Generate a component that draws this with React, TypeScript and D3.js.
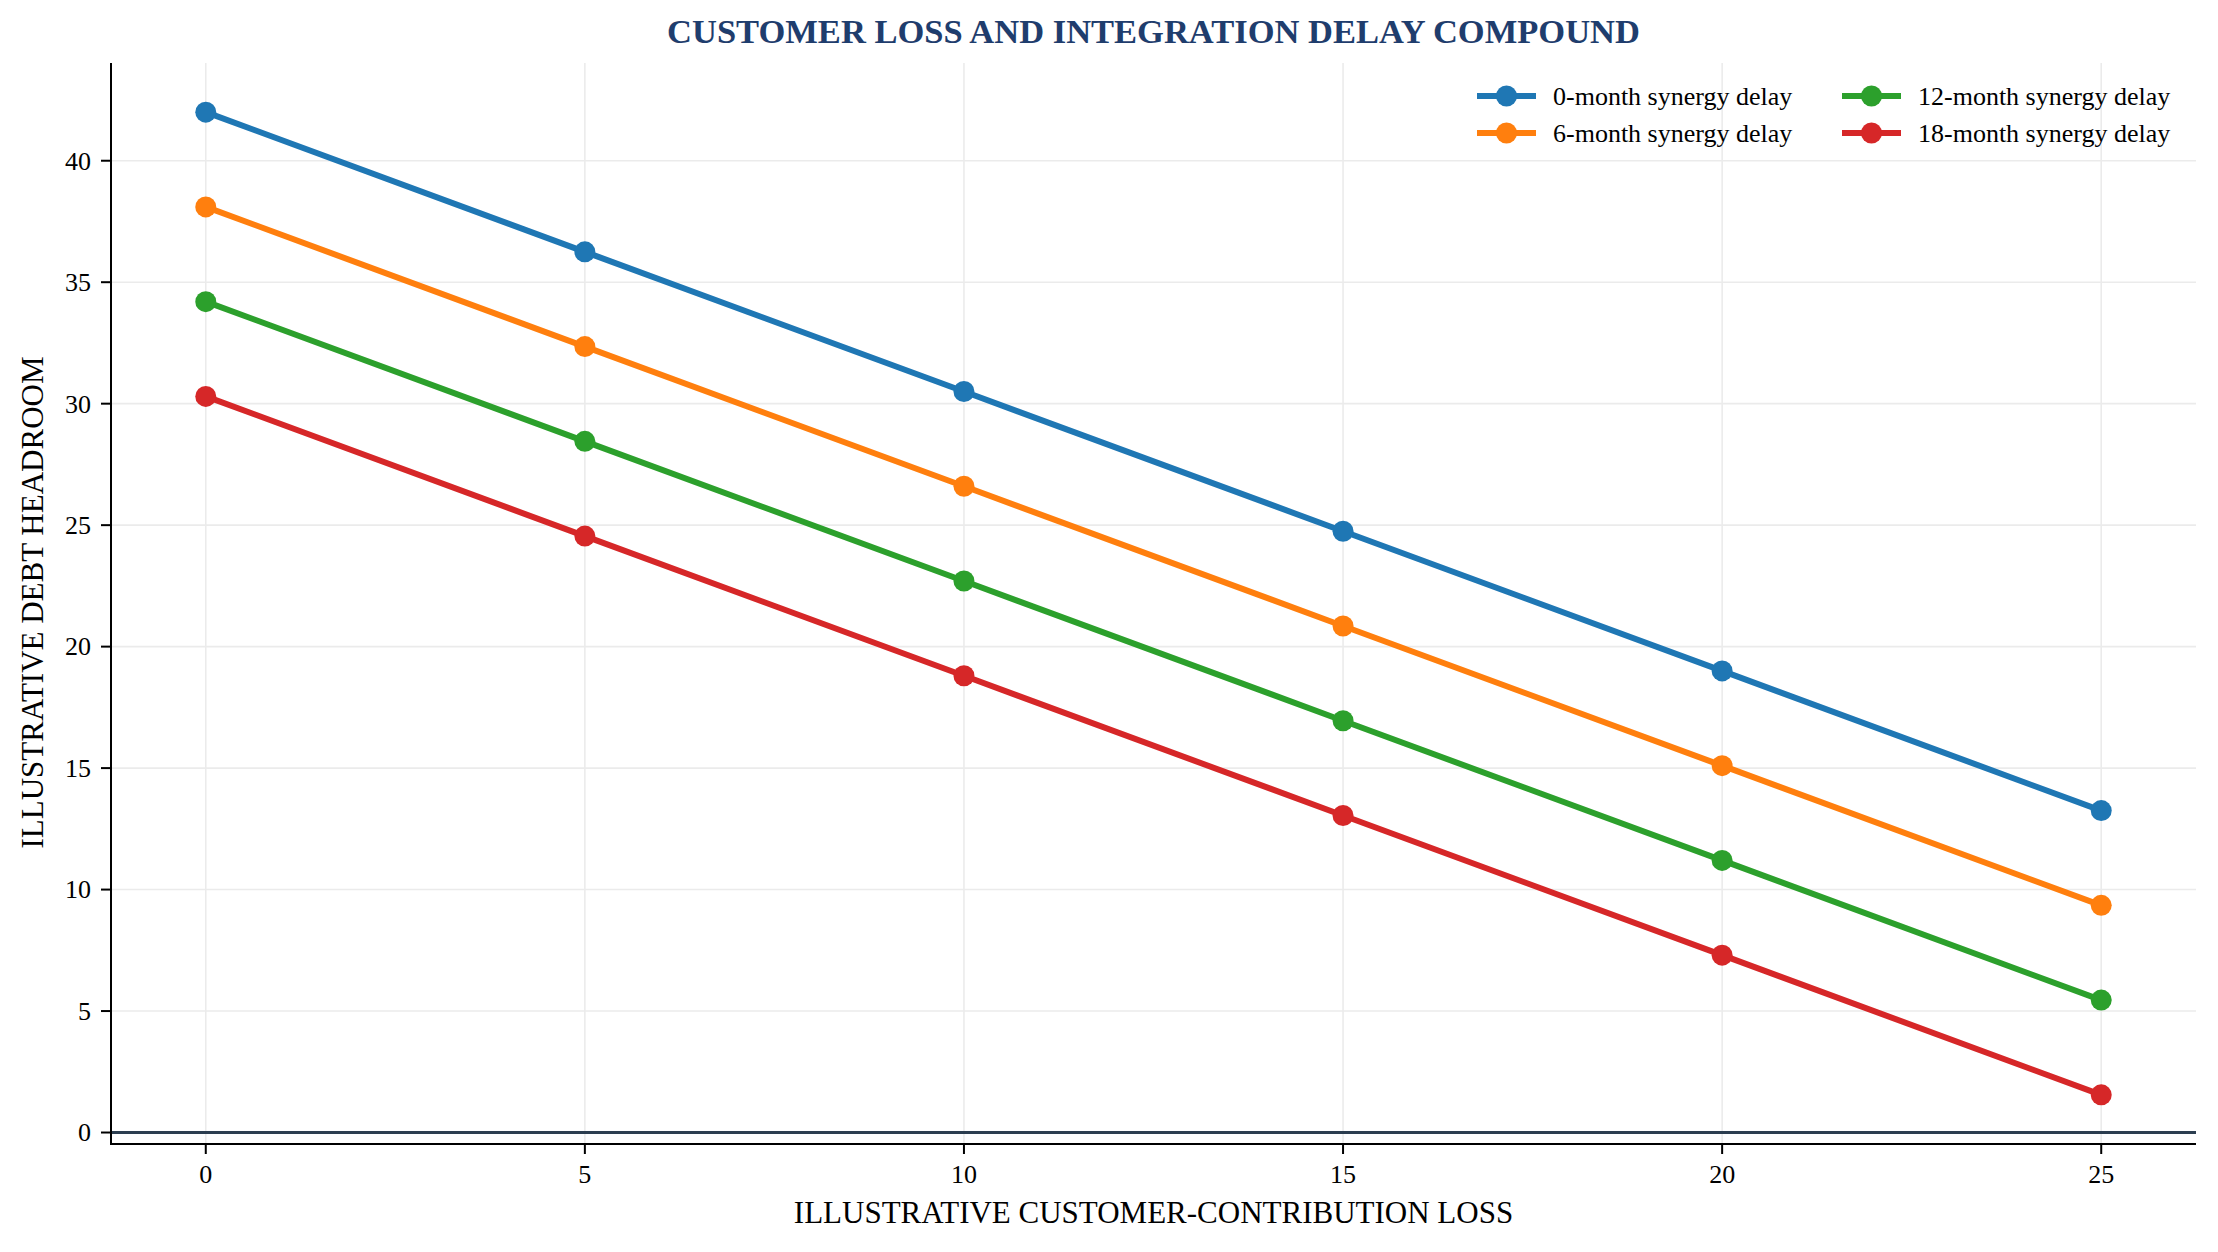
import { useEffect, useRef } from 'react';
import * as d3 from 'd3';

const contributionLoss = [0, 5, 10, 15, 20, 25];
const seriesNames = [
  '0-month synergy delay',
  '6-month synergy delay',
  '12-month synergy delay',
  '18-month synergy delay',
];
const delay0 = [42.0, 36.25, 30.5, 24.75, 19.0, 13.25];
const delay6 = [38.1, 32.35, 26.6, 20.85, 15.1, 9.35];
const delay12 = [34.2, 28.45, 22.7, 16.95, 11.2, 5.45];
const delay18 = [30.3, 24.55, 18.8, 13.05, 7.3, 1.55];
const seriesColors = ['#1f77b4', '#ff7f0e', '#2ca02c', '#d62728'];
const xTicks = [0, 5, 10, 15, 20, 25];
const yTicks = [0, 5, 10, 15, 20, 25, 30, 35, 40];

const W = 2218;
const H = 1252;
const FONT = '"Liberation Serif", "Times New Roman", "DejaVu Serif", serif';

const App = () => {
  const ref = useRef<SVGSVGElement>(null);

  useEffect(() => {
    if (!ref.current) return;
    document.body.style.margin = '0';
    const svg = d3.select(ref.current);
    svg.selectAll('*').remove();

    const left = 111, right = 2196, top = 63, bottom = 1144;
    const allValues = [delay0, delay6, delay12, delay18].flat();
    const yMin = d3.min(allValues) as number;
    const yMax = d3.max(allValues) as number;
    const pad = (yMax - yMin) * 0.05;

    const x = d3.scaleLinear().domain([-1.25, 26.25]).range([left, right]);
    const y = d3.scaleLinear().domain([yMin - pad, yMax + pad]).range([bottom, top]);

    svg.append('rect').attr('width', W).attr('height', H).attr('fill', 'white');

    // grid
    const grid = svg.append('g');
    grid.selectAll('.gx').data(xTicks).enter().append('line')
      .attr('x1', d => x(d)).attr('x2', d => x(d))
      .attr('y1', top).attr('y2', bottom)
      .attr('stroke', '#ebebeb').attr('stroke-width', 1.6);
    grid.selectAll('.gy').data(yTicks).enter().append('line')
      .attr('x1', left).attr('x2', right)
      .attr('y1', d => y(d)).attr('y2', d => y(d))
      .attr('stroke', '#ebebeb').attr('stroke-width', 1.6);

    // zero reference line
    svg.append('line')
      .attr('x1', left).attr('x2', right)
      .attr('y1', y(0)).attr('y2', y(0))
      .attr('stroke', '#2c3e50').attr('stroke-width', 3);

    // series
    const series = [delay0, delay6, delay12, delay18];
    const line = d3.line<number>()
      .x((_, i) => x(contributionLoss[i]))
      .y(d => y(d));

    series.forEach((vals, si) => {
      const g = svg.append('g');
      g.append('path')
        .attr('d', line(vals) || '')
        .attr('fill', 'none')
        .attr('stroke', seriesColors[si])
        .attr('stroke-width', 6)
        .attr('stroke-linejoin', 'round');
      g.selectAll('circle').data(vals).enter().append('circle')
        .attr('cx', (_, i) => x(contributionLoss[i]))
        .attr('cy', d => y(d))
        .attr('r', 10.5)
        .attr('fill', seriesColors[si]);
    });

    // spines
    svg.append('line')
      .attr('x1', left).attr('x2', left).attr('y1', top).attr('y2', bottom + 1)
      .attr('stroke', 'black').attr('stroke-width', 2);
    svg.append('line')
      .attr('x1', left - 1).attr('x2', right).attr('y1', bottom).attr('y2', bottom)
      .attr('stroke', 'black').attr('stroke-width', 2);

    // x ticks
    const xt = svg.append('g');
    xt.selectAll('line').data(xTicks).enter().append('line')
      .attr('x1', d => x(d)).attr('x2', d => x(d))
      .attr('y1', bottom).attr('y2', bottom + 10)
      .attr('stroke', 'black').attr('stroke-width', 2);
    xt.selectAll('text').data(xTicks).enter().append('text')
      .attr('x', d => x(d)).attr('y', 1183)
      .attr('text-anchor', 'middle')
      .attr('font-family', FONT).attr('font-size', 26)
      .text(d => d);

    // y ticks
    const yt = svg.append('g');
    yt.selectAll('line').data(yTicks).enter().append('line')
      .attr('x1', left - 10).attr('x2', left)
      .attr('y1', d => y(d)).attr('y2', d => y(d))
      .attr('stroke', 'black').attr('stroke-width', 2);
    yt.selectAll('text').data(yTicks).enter().append('text')
      .attr('x', left - 20).attr('y', d => y(d))
      .attr('dy', '0.34em')
      .attr('text-anchor', 'end')
      .attr('font-family', FONT).attr('font-size', 26)
      .text(d => d);

    // axis labels
    svg.append('text')
      .attr('x', (left + right) / 2).attr('y', 1223)
      .attr('text-anchor', 'middle')
      .attr('font-family', FONT).attr('font-size', 31)
      .text('ILLUSTRATIVE CUSTOMER-CONTRIBUTION LOSS');
    svg.append('text')
      .attr('transform', `translate(43,${(top + bottom) / 2 - 1}) rotate(-90)`)
      .attr('text-anchor', 'middle')
      .attr('font-family', FONT).attr('font-size', 31)
      .text('ILLUSTRATIVE DEBT HEADROOM');

    // title
    svg.append('text')
      .attr('x', (left + right) / 2).attr('y', 43)
      .attr('text-anchor', 'middle')
      .attr('font-family', FONT).attr('font-size', 34.5)
      .attr('font-weight', 'bold')
      .attr('fill', '#1f3d6d')
      .text('CUSTOMER LOSS AND INTEGRATION DELAY COMPOUND');

    // legend (2 columns, column-major)
    const colX = [1477, 1842];
    const rowY = [96, 133];
    seriesNames.forEach((name, i) => {
      const cx = colX[Math.floor(i / 2)];
      const cy = rowY[i % 2];
      const lg = svg.append('g');
      lg.append('line')
        .attr('x1', cx).attr('x2', cx + 59)
        .attr('y1', cy).attr('y2', cy)
        .attr('stroke', seriesColors[i]).attr('stroke-width', 6);
      lg.append('circle')
        .attr('cx', cx + 29.5).attr('cy', cy).attr('r', 10.5)
        .attr('fill', seriesColors[i]);
      lg.append('text')
        .attr('x', cx + 76).attr('y', cy).attr('dy', '0.33em')
        .attr('font-family', FONT).attr('font-size', 26)
        .text(name);
    });
  }, []);

  return (
    <div style={{ position: 'absolute', left: 0, top: 0 }}>
      <svg ref={ref} width={W} height={H} style={{ display: 'block' }} />
    </div>
  );
};

export default App;
